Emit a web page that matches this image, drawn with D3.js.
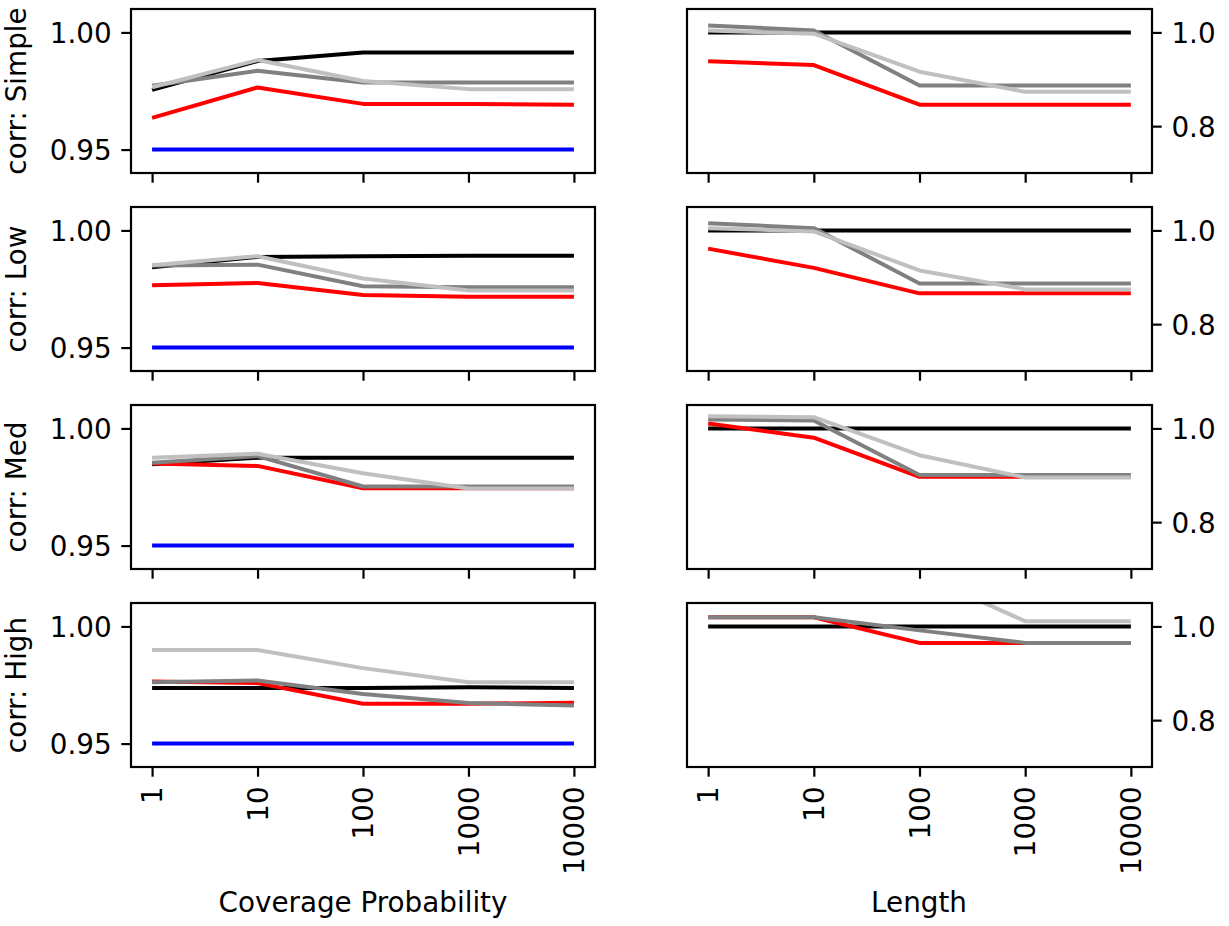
<!DOCTYPE html>
<html>
<head>
<meta charset="utf-8">
<script src="https://cdn.jsdelivr.net/npm/d3@7"></script>
<style>
  body { margin: 0; background: #fff; }
  svg text { font-family: "DejaVu Sans", sans-serif; }
</style>
</head>
<body>
<div id="chart"></div>
<script>
// data
const xValues = [1, 10, 100, 1000, 10000];
const rowLabels = ["corr: Simple", "corr: Low", "corr: Med", "corr: High"];
const colLabels = ["Coverage Probability", "Length"];
const coverageTicks = [0.95, 1.0];
const lengthTicks = [0.8, 1.0];

// coverage probability, one array per row
const covNominal = [
  [0.95, 0.95, 0.95, 0.95, 0.95],
  [0.95, 0.95, 0.95, 0.95, 0.95],
  [0.95, 0.95, 0.95, 0.95, 0.95],
  [0.95, 0.95, 0.95, 0.95, 0.95]
];
const covBlack = [
  [0.9755, 0.9878, 0.9914, 0.9914, 0.9914],
  [0.9843, 0.9887, 0.9890, 0.9892, 0.9892],
  [0.9847, 0.9875, 0.9875, 0.9875, 0.9875],
  [0.9737, 0.9737, 0.9737, 0.9740, 0.9737]
];
const covRed = [
  [0.9635, 0.9765, 0.9695, 0.9695, 0.9691],
  [0.9766, 0.9776, 0.9724, 0.9717, 0.9717],
  [0.9850, 0.9840, 0.9745, 0.9745, 0.9745],
  [0.9765, 0.9758, 0.9670, 0.9670, 0.9674]
];
const covGray = [
  [0.9772, 0.9836, 0.9786, 0.9786, 0.9786],
  [0.9850, 0.9854, 0.9762, 0.9758, 0.9758],
  [0.9854, 0.9882, 0.9752, 0.9752, 0.9752],
  [0.9762, 0.9769, 0.9712, 0.9673, 0.9663]
];
const covSilver = [
  [0.9766, 0.9882, 0.9793, 0.9758, 0.9758],
  [0.9851, 0.9890, 0.9795, 0.9744, 0.9744],
  [0.9875, 0.9892, 0.9809, 0.9744, 0.9744],
  [0.9899, 0.9899, 0.9822, 0.9762, 0.9762]
];

// relative length, one array per row
const lenBlack = [
  [1.0, 1.0, 1.0, 1.0, 1.0],
  [1.0, 1.0, 1.0, 1.0, 1.0],
  [1.0, 1.0, 1.0, 1.0, 1.0],
  [1.0, 1.0, 1.0, 1.0, 1.0]
];
const lenRed = [
  [0.9387, 0.9303, 0.8458, 0.8458, 0.8458],
  [0.9611, 0.9201, 0.8657, 0.8657, 0.8657],
  [1.0106, 0.9802, 0.8968, 0.8968, 0.8968],
  [1.0196, 1.0196, 0.9649, 0.9649, 0.9649]
];
const lenGray = [
  [1.0148, 1.0042, 0.8866, 0.8866, 0.8866],
  [1.0155, 1.0049, 0.8869, 0.8869, 0.8869],
  [1.0191, 1.0170, 0.9004, 0.9004, 0.9004],
  [1.0196, 1.0196, 0.9916, 0.9649, 0.9649]
];
const lenSilver = [
  [1.0042, 0.9972, 0.9162, 0.8732, 0.8732],
  [1.0049, 0.9979, 0.9145, 0.8742, 0.8742],
  [1.0261, 1.0240, 0.9428, 0.8954, 0.8954],
  [1.16, 1.16, 1.112, 1.0112, 1.0112]
];

const fontSize = 27.8;
const tickLen = 9.7;
const frameWidth = 2.2;
const lineWidth = 4;

class Panel {
  constructor(svg, _config) {
    this.svg = svg;
    this.config = {
      id: _config.id,
      left: _config.left,
      top: _config.top,
      width: _config.width || 464,
      height: _config.height || 164,
      yDomain: _config.yDomain,
      yTicks: _config.yTicks,
      yFormat: _config.yFormat,
      yRight: _config.yRight || false,
      yLabel: _config.yLabel || null,
      showXLabels: _config.showXLabels || false,
      series: _config.series
    };
    this.init();
  }

  init() {
    let vis = this;
    let c = vis.config;

    vis.x = d3.scaleLog()
      .domain([Math.pow(10, -0.2), Math.pow(10, 4.2)])
      .range([c.left, c.left + c.width]);

    vis.y = d3.scaleLinear()
      .domain(c.yDomain)
      .range([c.top + c.height, c.top]);

    vis.svg.append("clipPath")
      .attr("id", "clip-" + c.id)
      .append("rect")
      .attr("x", c.left)
      .attr("y", c.top)
      .attr("width", c.width)
      .attr("height", c.height);

    this.render();
  }

  render() {
    let vis = this;
    let c = vis.config;

    const line = d3.line()
      .x((d, i) => vis.x(xValues[i]))
      .y((d) => vis.y(d));

    // lines
    vis.svg.append("g")
      .attr("clip-path", `url(#clip-${c.id})`)
      .selectAll("path")
      .data(c.series)
      .join("path")
      .attr("d", (s) => line(s.values))
      .attr("fill", "none")
      .attr("stroke", (s) => s.color)
      .attr("stroke-width", lineWidth)
      .attr("stroke-linejoin", "round");

    // frame
    vis.svg.append("rect")
      .attr("x", c.left)
      .attr("y", c.top)
      .attr("width", c.width)
      .attr("height", c.height)
      .attr("fill", "none")
      .attr("stroke", "#000")
      .attr("stroke-width", frameWidth);

    // x axis
    const xAxis = vis.svg.append("g")
      .attr("transform", `translate(0, ${c.top + c.height})`)
      .call(d3.axisBottom(vis.x)
        .tickValues(xValues)
        .tickFormat(c.showXLabels ? d3.format("d") : "")
        .tickSize(tickLen)
        .tickPadding(tickLen));
    xAxis.select(".domain").remove();
    xAxis.selectAll("line").attr("stroke-width", frameWidth);
    xAxis.selectAll("text")
      .attr("y", 0)
      .attr("dy", "0.35em")
      .attr("transform", `translate(0, ${2 * tickLen}) rotate(-90)`)
      .style("text-anchor", "end")
      .style("font-size", fontSize + "px")
      .attr("fill", "#000");

    // y axis
    const yAxisFn = c.yRight ? d3.axisRight(vis.y) : d3.axisLeft(vis.y);
    const yAxis = vis.svg.append("g")
      .attr("transform", `translate(${c.yRight ? c.left + c.width : c.left}, 0)`)
      .call(yAxisFn
        .tickValues(c.yTicks)
        .tickFormat(d3.format(c.yFormat))
        .tickSize(tickLen)
        .tickPadding(tickLen));
    yAxis.select(".domain").remove();
    yAxis.selectAll("line").attr("stroke-width", frameWidth);
    yAxis.selectAll("text")
      .attr("dy", "0.36em")
      .style("font-size", fontSize + "px")
      .attr("fill", "#000");

    // row label
    if (c.yLabel) {
      vis.svg.append("text")
        .attr("transform", `translate(26, ${c.top + c.height / 2}) rotate(-90)`)
        .attr("text-anchor", "middle")
        .style("font-size", fontSize + "px")
        .text(c.yLabel);
    }
  }
}

const svg = d3.select("#chart")
  .append("svg")
  .attr("width", 1229)
  .attr("height", 926)
  .style("background", "#fff");

const colLeft = [131, 687];
const rowTop = [9, 207, 405, 603];
const panelW = 464;
const panelH = 164;

rowLabels.forEach((label, r) => {
  new Panel(svg, {
    id: "cov" + r,
    left: colLeft[0],
    top: rowTop[r],
    width: panelW,
    height: panelH,
    yDomain: [0.94, 1.01],
    yTicks: coverageTicks,
    yFormat: ".2f",
    yLabel: label,
    showXLabels: r === rowLabels.length - 1,
    series: [
      { color: "#0000ff", values: covNominal[r] },
      { color: "#000000", values: covBlack[r] },
      { color: "#ff0000", values: covRed[r] },
      { color: "#808080", values: covGray[r] },
      { color: "#c0c0c0", values: covSilver[r] }
    ]
  });

  new Panel(svg, {
    id: "len" + r,
    left: colLeft[1],
    top: rowTop[r],
    width: panelW + 1,
    height: panelH,
    yDomain: [0.70, 1.05],
    yTicks: lengthTicks,
    yFormat: ".1f",
    yRight: true,
    showXLabels: r === rowLabels.length - 1,
    series: [
      { color: "#000000", values: lenBlack[r] },
      { color: "#ff0000", values: lenRed[r] },
      { color: "#808080", values: lenGray[r] },
      { color: "#c0c0c0", values: lenSilver[r] }
    ]
  });
});

// column titles under the bottom row
colLabels.forEach((label, i) => {
  svg.append("text")
    .attr("x", colLeft[i] + panelW / 2)
    .attr("y", 912)
    .attr("text-anchor", "middle")
    .style("font-size", fontSize + "px")
    .text(label);
});
</script>
</body>
</html>
